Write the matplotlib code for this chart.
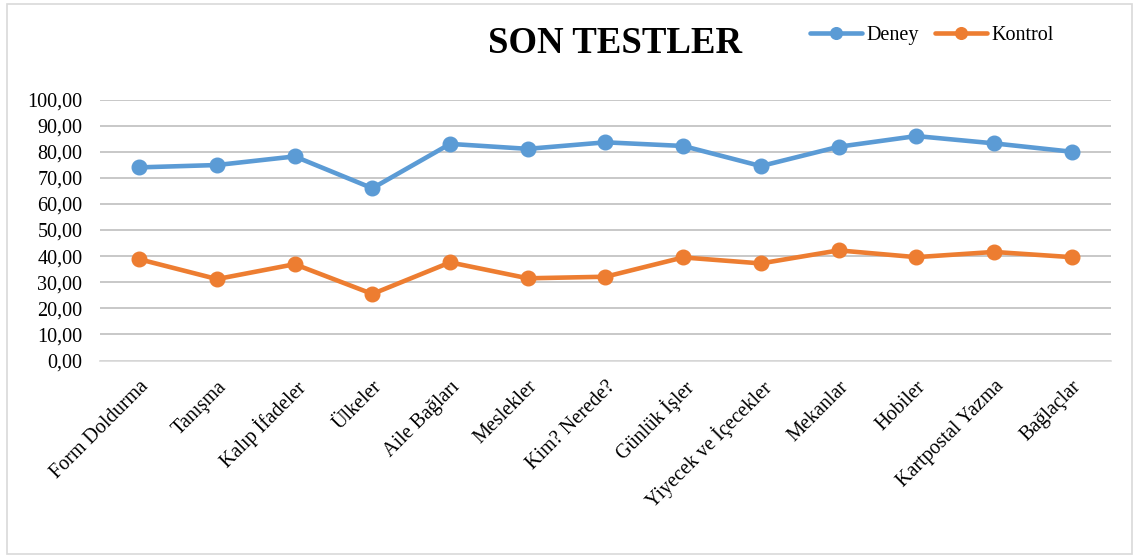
import matplotlib.pyplot as plt
import matplotlib.transforms as mtransforms
from matplotlib.patches import Rectangle
import numpy as np

categories = ['Form Doldurma', 'Tanışma', 'Kalıp İfadeler', 'Ülkeler', 'Aile Bağları',
              'Meslekler', 'Kim? Nerede?', 'Günlük İşler', 'Yiyecek ve İçecekler',
              'Mekanlar', 'Hobiler', 'Kartpostal Yazma', 'Bağlaçlar']
deney = [74.0, 74.9, 78.2, 66.0, 83.0, 81.1, 83.6, 82.2, 74.5, 81.9, 86.0, 83.2, 80.0]
kontrol = [38.8, 31.2, 36.9, 25.5, 37.6, 31.5, 32.1, 39.5, 37.2, 42.2, 39.6, 41.6, 39.6]
yticks = np.arange(0, 101, 10)

plt.rcParams['font.family'] = ['Liberation Serif', 'DejaVu Serif']

fig = plt.figure(figsize=(11.39, 5.56), dpi=100)
ax = fig.add_axes([0.0882, 0.3516, 0.8868, 0.4694])

x = np.arange(len(categories))
ax.plot(x, deney, color='#5B9BD5', lw=3.3, marker='o', ms=10.5, label='Deney',
        solid_capstyle='round', zorder=3)
ax.plot(x, kontrol, color='#ED7D31', lw=3.3, marker='o', ms=10.5, label='Kontrol',
        solid_capstyle='round', zorder=3)

ax.set_xlim(-0.5, len(categories) - 0.5)
ax.set_ylim(0, 100)
ax.set_yticks(yticks)
ax.set_yticklabels([f'{v:.2f}'.replace('.', ',') for v in yticks], fontsize=14.5)
ax.set_xticks(x)
ax.set_xticklabels(categories, rotation=45, ha='right', va='top',
                   rotation_mode='anchor', fontsize=14.5)
# shift the rotated labels a little to the left, like the original
shift = mtransforms.ScaledTranslation(-6 / 72, -1 / 72, fig.dpi_scale_trans)
for lbl in ax.get_xticklabels():
    lbl.set_transform(lbl.get_transform() + shift)
ax.tick_params(axis='both', length=0)
ax.tick_params(axis='y', pad=13)
ax.tick_params(axis='x', pad=12)
ax.grid(axis='y', color='#BFBFBF', lw=1.2)
ax.set_axisbelow(True)
for side in ['left', 'right', 'top']:
    ax.spines[side].set_visible(False)
ax.spines['bottom'].set_color('#D9D9D9')
ax.spines['bottom'].set_linewidth(1.2)

fig.text(0.54, 0.922, 'SON TESTLER', ha='center', va='center',
         fontsize=26.5, fontweight='bold')
fig.legend(loc='center left', bbox_to_anchor=(0.695, 0.936), ncol=2, frameon=False,
           fontsize=14.5, handlelength=2.6, columnspacing=0.8, handletextpad=0.2,
           markerscale=0.8)

fig.patches.append(Rectangle((0.006, 0.003), 0.988, 0.99, transform=fig.transFigure,
                             fill=False, edgecolor='#D9D9D9', lw=1.2))

plt.savefig('out.png', dpi=100)
